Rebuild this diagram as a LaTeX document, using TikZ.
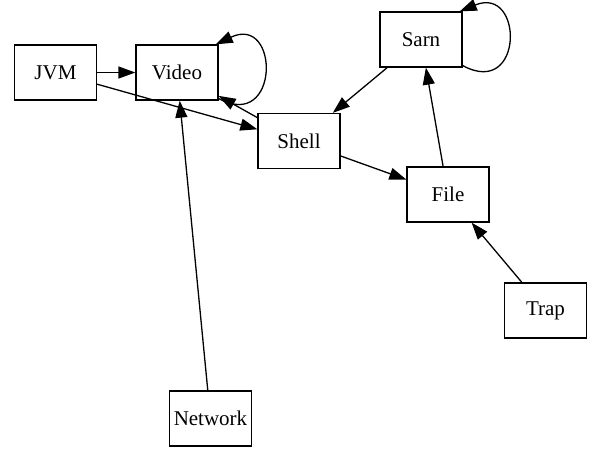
\documentclass[tikz,border=0pt]{standalone}
\usepackage{fontspec}
\setmainfont{Liberation Serif}
\usetikzlibrary{arrows.meta}

\begin{document}
\begin{tikzpicture}[x=1pt, y=-1pt, line width=1.3pt,
    box/.style={draw, rectangle, minimum width=82pt, minimum height=55pt, inner sep=0pt,
        font=\fontsize{21}{25}\selectfont},
    edge/.style={-{Triangle[length=17pt,width=12pt]}}]
    \useasboundingbox (0,0) rectangle (590,448);

    \node[box] (jvm)     at (55.5,72.5)  {JVM};
    \node[box] (video)   at (177,72.5)   {Video};
    \node[box] (sarn)    at (421,39.5)   {Sarn};
    \node[box] (shell)   at (299,141)    {Shell};
    \node[box] (file)    at (448,194.5)  {File};
    \node[box] (trap)    at (545.5,310.5) {Trap};
    \node[box] (network) at (210.5,418.5) {Network};

    \draw[edge] (jvm) -- (video);
    \draw[edge] (jvm) -- (shell);
    \draw[edge] (shell) -- (video);
    \draw[edge] (network) -- (video);
    \draw[edge] (sarn) -- (shell);
    \draw[edge] (shell) -- (file);
    \draw[edge] (file) -- (sarn);
    \draw[edge] (trap) -- (file);

    % self loops
    \draw[edge] (video.-32) .. controls (280,132) and (280,14) .. (video.36);
    \draw[edge] (sarn.-32)  .. controls (524,99)  and (524,-15) .. (sarn.36);
\end{tikzpicture}
\end{document}
